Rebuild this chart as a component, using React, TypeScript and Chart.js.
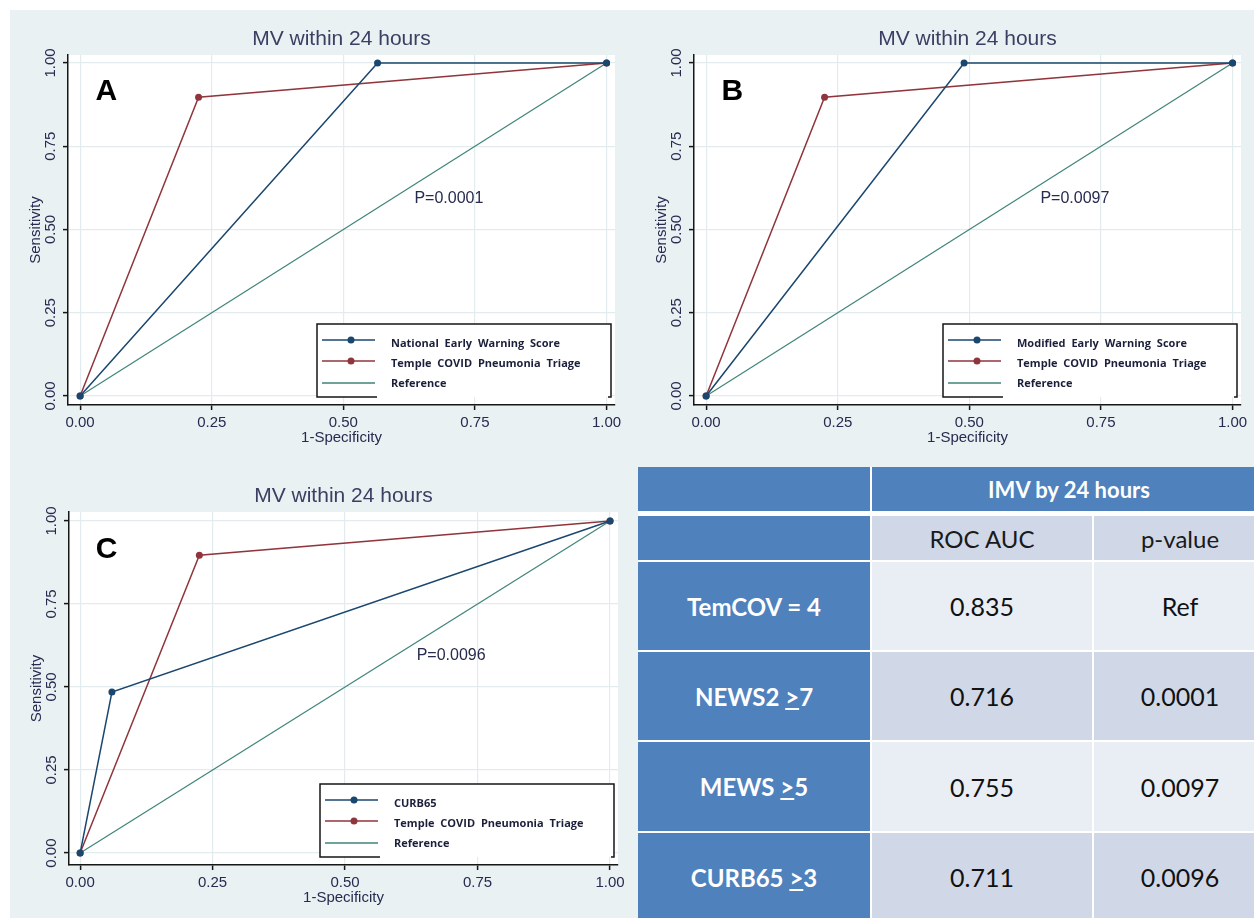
import React, { useEffect, useRef } from "react";
import { Chart, registerables, ChartConfiguration } from "chart.js";

Chart.register(...registerables);

// ROC points (1-specificity, sensitivity)
const temcovX = [0, 0.225, 1];
const temcovY = [0, 0.897, 1];
const newsX = [0, 0.565, 1];
const newsY = [0, 1, 1];
const mewsX = [0, 0.49, 1];
const mewsY = [0, 1, 1];
const curbX = [0, 0.06, 1];
const curbY = [0, 0.485, 1];
const refX = [0, 1];
const refY = [0, 1];

const tickValues = [0, 0.25, 0.5, 0.75, 1];
const panelLetters = ["A", "B", "C"];
const scoreNames = ["National Early Warning Score", "Modified Early Warning Score", "CURB65"];
const pValueLabels = ["P=0.0001", "P=0.0097", "P=0.0096"];
const chartTitle = "MV within 24 hours";

// table
const tableHeader = "IMV by 24 hours";
const tableColumns = ["ROC AUC", "p-value"];
const ruleNames = ["TemCOV = 4", "NEWS2 >7", "MEWS >5", "CURB65 >3"];
const rocAuc = ["0.835", "0.716", "0.755", "0.711"];
const pValues = ["Ref", "0.0001", "0.0097", "0.0096"];

const NAVY = "#1a476f";
const MAROON = "#90353b";
const TEAL = "#3f8578";
const BG = "#e9f1f3";
const TEXT = "#262b4f";
const GRID = "#e2ecef";
const AXIS = "#161616";
const FONT = "'Liberation Sans', Arial, sans-serif";

type Panel = {
  idx: number,
  scoreX: number[],
  scoreY: number[],
  left: number, top: number, w: number, h: number,
  area: { left: number, right: number, top: number, bottom: number },
  xRange: [number, number],
  yRange: [number, number],
};

const panels: Panel[] = [
  {
    idx: 0, scoreX: newsX, scoreY: newsY,
    left: 10, top: 10, w: 620, h: 440,
    area: { left: 58, right: 605, top: 45, bottom: 395 },
    xRange: [-0.023, 1.016], yRange: [-0.027, 1.024],
  },
  {
    idx: 1, scoreX: mewsX, scoreY: mewsY,
    left: 630, top: 10, w: 624, h: 440,
    area: { left: 64, right: 611, top: 45, bottom: 395 },
    xRange: [-0.023, 1.016], yRange: [-0.027, 1.024],
  },
  {
    idx: 2, scoreX: curbX, scoreY: curbY,
    left: 10, top: 455, w: 620, h: 463,
    area: { left: 59, right: 608, top: 57, bottom: 410 },
    xRange: [-0.021, 1.015], yRange: [-0.036, 1.027],
  },
];

const pts = (xs: number[], ys: number[]) => xs.map((x, i) => ({ x, y: ys[i] }));

function decorPlugin(p: Panel) {
  return {
    id: "decor" + p.idx,
    beforeDraw(chart: any) {
      const { ctx, chartArea: ca } = chart;
      ctx.save();
      ctx.fillStyle = "#fff";
      ctx.fillRect(ca.left - 1, ca.top, ca.right - ca.left + 1, ca.bottom - ca.top);
      ctx.restore();
    },
    afterDraw(chart: any) {
      const { ctx, chartArea: ca } = chart;
      const xs = chart.scales.x;
      const ys = chart.scales.y;
      ctx.save();
      ctx.fillStyle = TEXT;
      ctx.textBaseline = "middle";

      // title
      ctx.textAlign = "center";
      ctx.font = `21px ${FONT}`;
      ctx.fillStyle = "#3b4063";
      ctx.fillText(chartTitle, (ca.left + ca.right) / 2, ca.top - 16);

      // y tick labels, rotated
      ctx.fillStyle = TEXT;
      ctx.font = `15px ${FONT}`;
      tickValues.forEach((v) => {
        ctx.save();
        ctx.translate(ca.left - 17, ys.getPixelForValue(v));
        ctx.rotate(-Math.PI / 2);
        ctx.fillText(v.toFixed(2), 0, 0);
        ctx.restore();
      });

      // axis titles
      ctx.font = `15px ${FONT}`;
      ctx.save();
      ctx.translate(ca.left - 32, (ca.top + ca.bottom) / 2);
      ctx.rotate(-Math.PI / 2);
      ctx.fillText("Sensitivity", 0, 0);
      ctx.restore();
      ctx.fillText("1-Specificity", (ca.left + ca.right) / 2, ca.bottom + 33);

      // panel letter
      ctx.font = `bold 30px ${FONT}`;
      ctx.fillStyle = "#000";
      ctx.fillText(panelLetters[p.idx], xs.getPixelForValue(0.05), ys.getPixelForValue(0.913));

      // p-value
      ctx.font = `16px ${FONT}`;
      ctx.fillStyle = TEXT;
      ctx.textAlign = "left";
      ctx.fillText(pValueLabels[p.idx], xs.getPixelForValue(0.635), ys.getPixelForValue(0.594));

      // legend box
      const right = ca.right - 4;
      const bottom = ca.bottom - 8;
      const w = 294, h = 73;
      const left = right - w, top = bottom - h;
      ctx.fillStyle = "#fff";
      ctx.fillRect(left, top, w, h);
      ctx.strokeStyle = AXIS;
      ctx.lineWidth = 1.5;
      ctx.beginPath();
      ctx.moveTo(left + 60, bottom);
      ctx.lineTo(left, bottom);
      ctx.lineTo(left, top);
      ctx.lineTo(right, top);
      ctx.lineTo(right, bottom);
      ctx.lineTo(right - 3, bottom);
      ctx.stroke();

      const lineYs = [16, 37, 59];
      const textYs = [20, 40, 60];
      ctx.font = `bold 11px 'Open Sans', sans-serif`;
      (ctx as any).wordSpacing = "3px";
      chart.data.datasets.forEach((ds: any, i: number) => {
        const ly = top + lineYs[i];
        ctx.strokeStyle = ds.borderColor;
        ctx.lineWidth = 1.5;
        ctx.beginPath();
        ctx.moveTo(left + 5, ly);
        ctx.lineTo(left + 58, ly);
        ctx.stroke();
        if (ds.pointRadius > 0) {
          ctx.fillStyle = ds.borderColor;
          ctx.beginPath();
          ctx.arc(left + 34, ly, 3.5, 0, Math.PI * 2);
          ctx.fill();
        }
        ctx.fillStyle = "#1b1f3b";
        ctx.fillText(ds.label, left + 74, top + textYs[i]);
      });
      ctx.restore();
    },
  };
}

function axisOptions(p: Panel, axis: "x" | "y") {
  const range = axis === "x" ? p.xRange : p.yRange;
  return {
    type: "linear" as const,
    min: range[0],
    max: range[1],
    afterFit: (s: any) => {
      if (axis === "x") s.height = p.h - p.area.bottom;
      else s.width = p.area.left;
    },
    afterBuildTicks: (s: any) => {
      s.ticks = tickValues.map((v) => ({ value: v }));
    },
    ticks: {
      display: axis === "x",
      autoSkip: false,
      maxRotation: 0,
      padding: 4,
      color: TEXT,
      font: { family: FONT, size: 15 },
      callback: (v: any) => Number(v).toFixed(2),
    },
    grid: {
      color: GRID,
      lineWidth: 1.2,
      tickColor: AXIS,
      tickLength: 5,
      tickWidth: 1.5,
    },
    border: { color: AXIS, width: 1.5 },
  };
}

function rocConfig(p: Panel): ChartConfiguration {
  return {
    type: "scatter",
    data: {
      datasets: [
        {
          label: scoreNames[p.idx],
          data: pts(p.scoreX, p.scoreY),
          showLine: true,
          borderColor: NAVY,
          backgroundColor: NAVY,
          borderWidth: 1.5,
          pointRadius: 3.5,
          pointBorderWidth: 0,
        },
        {
          label: "Temple COVID Pneumonia Triage",
          data: pts(temcovX, temcovY),
          showLine: true,
          borderColor: MAROON,
          backgroundColor: MAROON,
          borderWidth: 1.5,
          pointRadius: 3.5,
          pointBorderWidth: 0,
        },
        {
          label: "Reference",
          data: pts(refX, refY),
          showLine: true,
          borderColor: TEAL,
          backgroundColor: TEAL,
          borderWidth: 1.2,
          pointRadius: 0,
        },
      ],
    } as any,
    options: {
      animation: false,
      responsive: false,
      maintainAspectRatio: false,
      layout: {
        padding: { left: 0, bottom: 0, top: p.area.top, right: p.w - p.area.right },
      },
      plugins: {
        legend: { display: false },
        tooltip: { enabled: false },
        title: { display: false },
      },
      scales: {
        x: axisOptions(p, "x"),
        y: axisOptions(p, "y"),
      } as any,
    },
    plugins: [decorPlugin(p)],
  };
}

const RocChart = ({ panel }: { panel: Panel }) => {
  const canvas = useRef<HTMLCanvasElement>(null);
  useEffect(() => {
    const chart = new Chart(canvas.current!, rocConfig(panel));
    return () => chart.destroy();
  }, [panel]);
  return (
    <canvas ref={canvas} width={panel.w} height={panel.h}
      style={{ position: "absolute", left: panel.left, top: panel.top }} />
  );
};

const BLUE = "#4f81bd";
const DARK_ROW = "#d0d8e8";
const LIGHT_ROW = "#e9edf4";

function ruleLabel(name: string) {
  const [a, b] = name.split(">");
  if (b === undefined) return <span>{name}</span>;
  return (
    <span style={{ whiteSpace: "pre" }}>
      {a}<span style={{ textDecoration: "underline" }}>{">"}</span>{b}
    </span>
  );
}

const cell = (bg: string, extra: React.CSSProperties = {}): React.CSSProperties => ({
  background: bg,
  display: "flex",
  alignItems: "center",
  justifyContent: "center",
  ...extra,
});

const ResultTable = () => {
  const rowBg = (i: number) => (i % 2 === 0 ? LIGHT_ROW : DARK_ROW);
  return (
    <div style={{ position: "absolute", left: 638, top: 467, width: 616, height: 451, overflow: "hidden" }}>
      <div style={{
        display: "grid",
        gridTemplateColumns: "232px 220px 172px",
        gridTemplateRows: "44px 1px 44px 88px 88px 89px 88px",
        gap: 2,
        background: "#fff",
        width: 628,
        fontFamily: "Lato, 'Open Sans', sans-serif",
      }}>
        <div style={cell(BLUE)} />
        <div style={cell(BLUE, { gridColumn: "2 / 4", color: "#fff", fontWeight: 700, fontSize: 22 })}>
          {tableHeader}
        </div>
        <div style={{ gridColumn: "1 / 4", background: "#fff" }} />
        <div style={cell(BLUE)} />
        {tableColumns.map((c) => (
          <div key={c} style={cell(DARK_ROW, { fontSize: 24, color: "#1a1a1a" })}>{c}</div>
        ))}
        {ruleNames.map((r, i) => (
          <React.Fragment key={r}>
            <div style={cell(BLUE, { color: "#fff", fontWeight: 700, fontSize: 24 })}>{ruleLabel(r)}</div>
            <div style={cell(rowBg(i), { fontSize: 25, color: "#111" })}>{rocAuc[i]}</div>
            <div style={cell(rowBg(i), { fontSize: 25, color: "#111" })}>{pValues[i]}</div>
          </React.Fragment>
        ))}
      </div>
    </div>
  );
};

export default function App() {
  return (
    <div style={{ position: "absolute", left: 0, top: 0, width: 1254, height: 918, background: "#fff", overflow: "hidden" }}>
      <div style={{ position: "absolute", left: 10, top: 10, right: 0, bottom: 0, background: BG }} />
      {panels.map((p) => <RocChart key={p.idx} panel={p} />)}
      <ResultTable />
    </div>
  );
}
